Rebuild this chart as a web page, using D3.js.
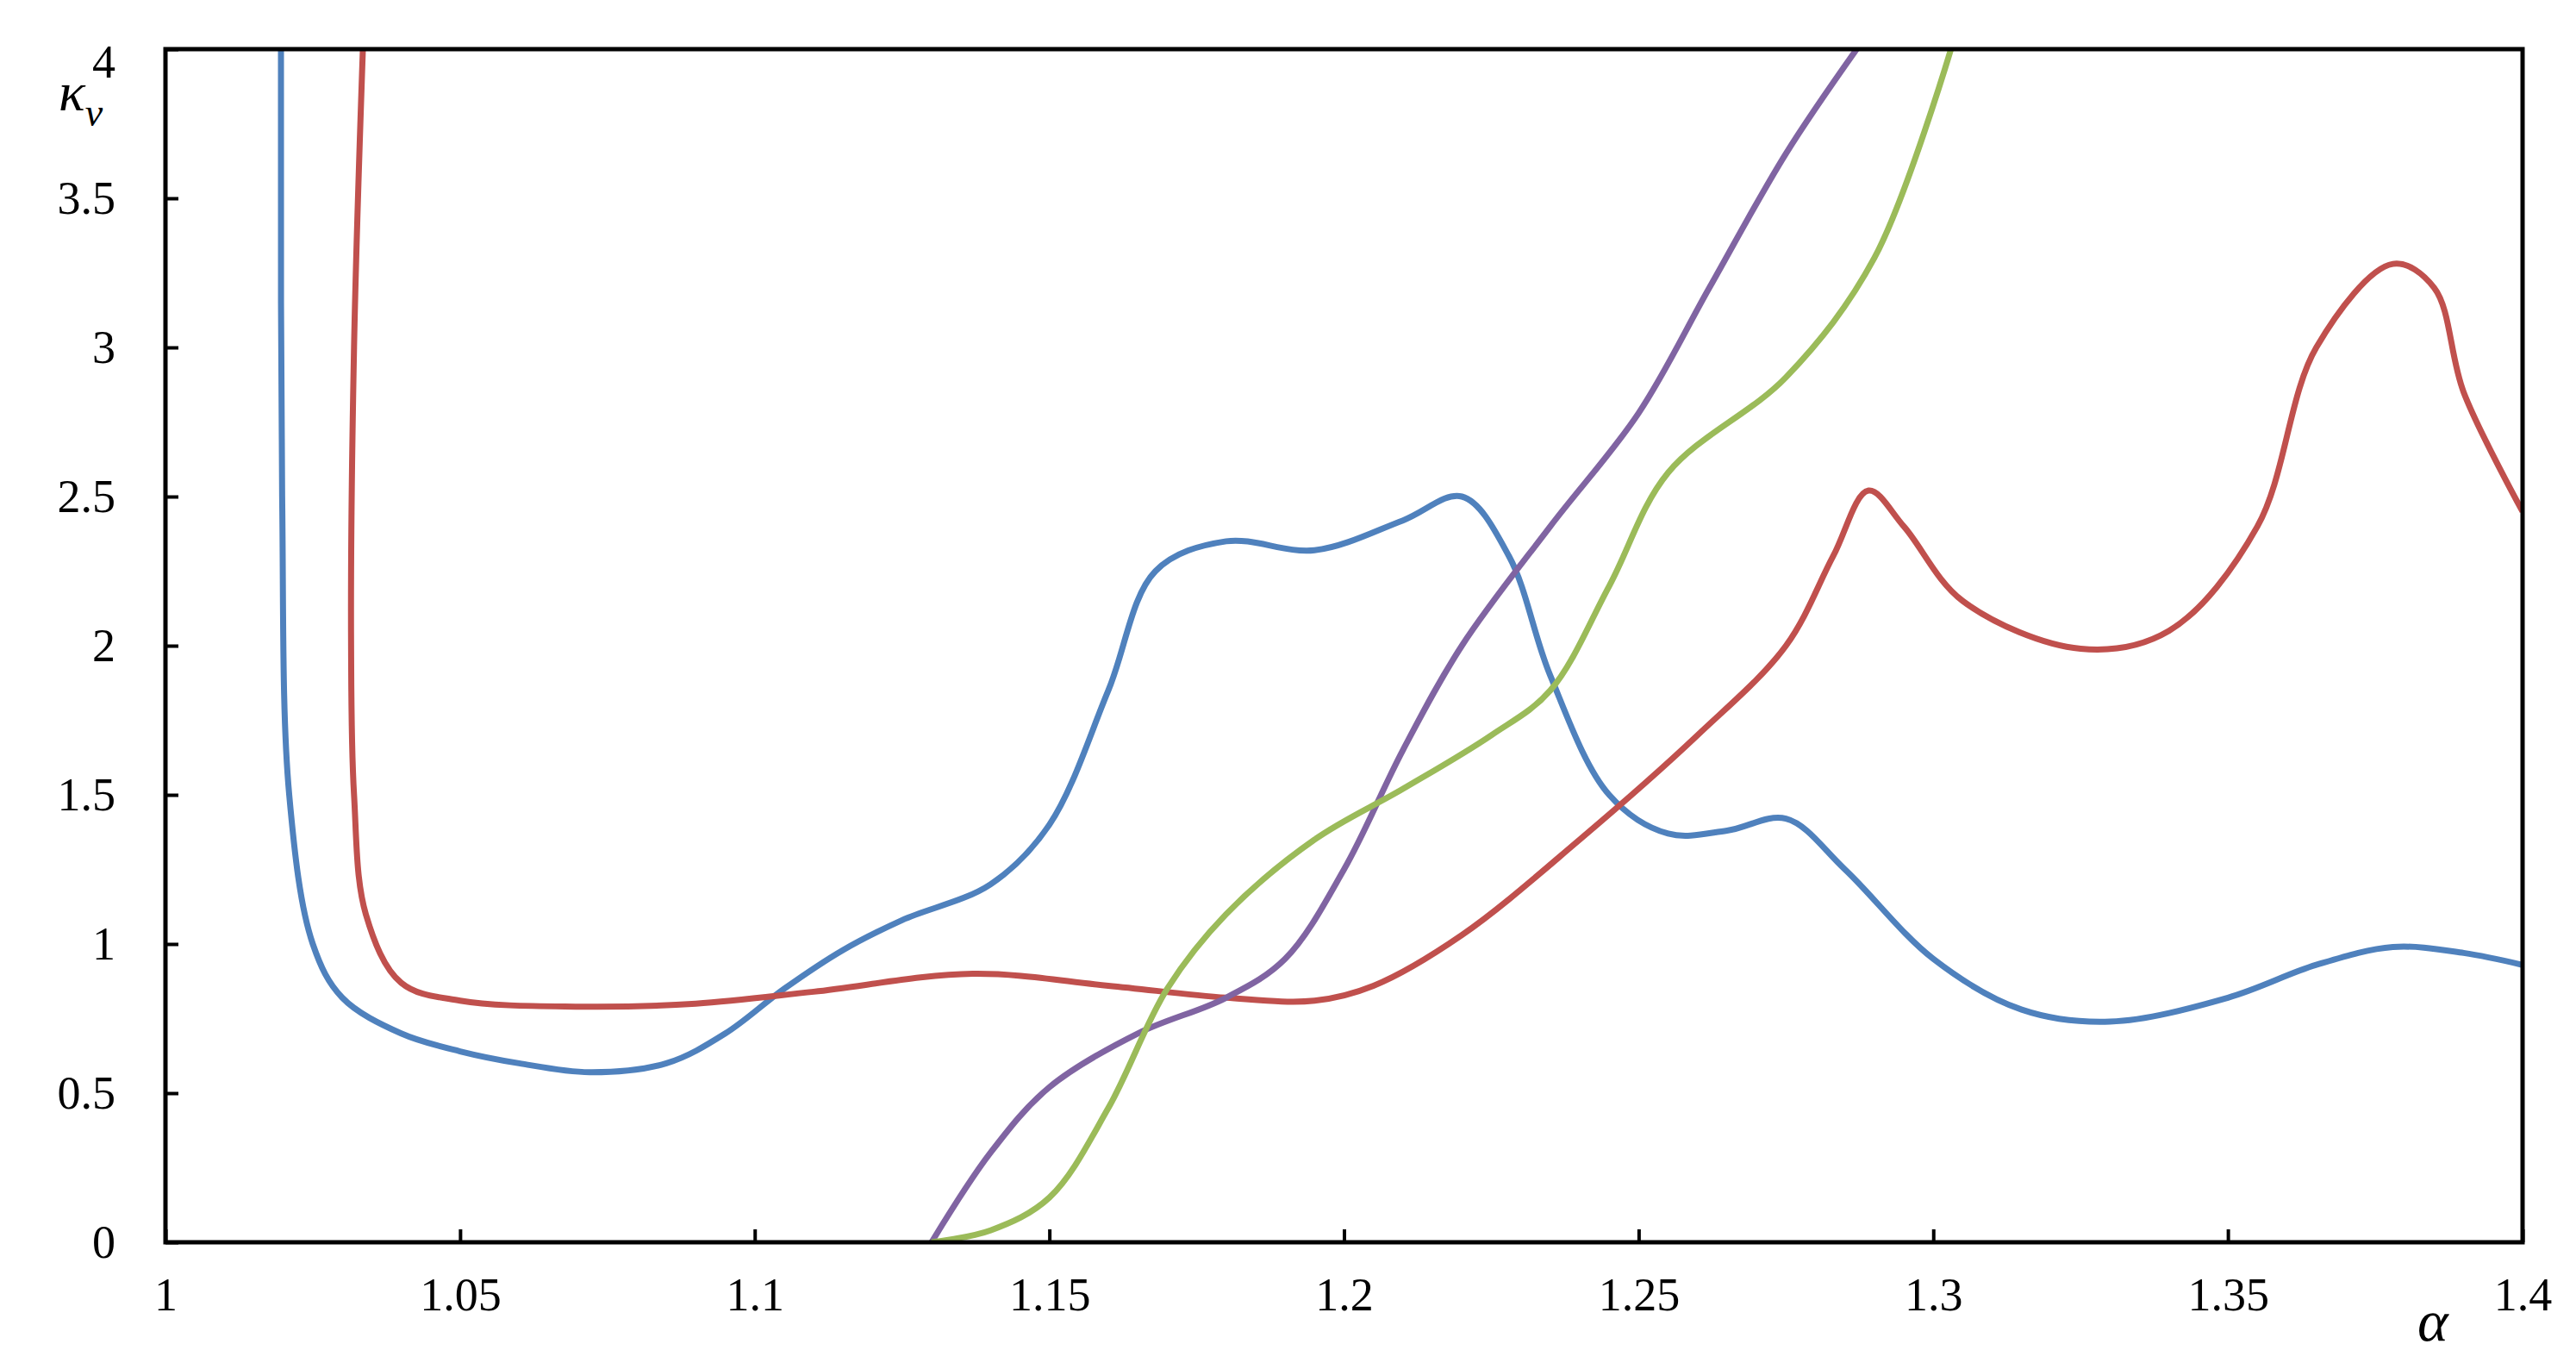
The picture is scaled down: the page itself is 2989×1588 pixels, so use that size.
<!DOCTYPE html>
<html><head><meta charset="utf-8">
<script src="https://cdn.jsdelivr.net/npm/d3@7"></script>
<style>body{margin:0;background:#fff}</style></head>
<body><svg id="c" width="2989" height="1588"></svg>
<script>
const xTicks=[1,1.05,1.1,1.15,1.2,1.25,1.3,1.35,1.4];
const yTicks=[0,0.5,1,1.5,2,2.5,3,3.5,4];
const blue=[[1.0196,4],[1.0198,2.5],[1.021,1.5],[1.025,1.0],[1.03,0.82],[1.04,0.7],[1.05,0.64],[1.06,0.6],[1.072,0.57],[1.085,0.6],[1.095,0.7],[1.105,0.85],[1.115,0.98],[1.125,1.08],[1.14,1.2],[1.15,1.4],[1.16,1.85],[1.168,2.25],[1.18,2.35],[1.195,2.32],[1.21,2.42],[1.22,2.5],[1.228,2.3],[1.235,1.9],[1.245,1.5],[1.255,1.37],[1.265,1.38],[1.275,1.42],[1.285,1.25],[1.3,0.95],[1.315,0.78],[1.33,0.74],[1.35,0.82],[1.365,0.93],[1.378,0.99],[1.39,0.97],[1.4,0.93]];
const red=[[1.0335,4],[1.032,3],[1.0315,2],[1.032,1.5],[1.034,1.1],[1.04,0.87],[1.05,0.81],[1.07,0.79],[1.09,0.8],[1.11,0.84],[1.137,0.9],[1.16,0.86],[1.18,0.82],[1.195,0.81],[1.205,0.86],[1.22,1.03],[1.24,1.35],[1.26,1.7],[1.275,2.0],[1.283,2.3],[1.289,2.52],[1.295,2.4],[1.305,2.15],[1.325,1.99],[1.34,2.05],[1.355,2.4],[1.365,3.0],[1.378,3.28],[1.385,3.2],[1.39,2.85],[1.4,2.45]];
const purple=[[1.13,0],[1.14,0.3],[1.15,0.52],[1.165,0.7],[1.18,0.82],[1.19,0.95],[1.2,1.25],[1.21,1.65],[1.22,2.0],[1.235,2.4],[1.25,2.78],[1.262,3.2],[1.275,3.65],[1.287,4]];
const green=[[1.13,0],[1.14,0.04],[1.15,0.15],[1.16,0.45],[1.17,0.85],[1.18,1.1],[1.195,1.35],[1.21,1.52],[1.225,1.7],[1.235,1.85],[1.245,2.2],[1.255,2.58],[1.275,2.9],[1.29,3.3],[1.303,4]];
const series=[{d:blue,c:"#4f81bd"},{d:red,c:"#c0504d"},{d:purple,c:"#8064a2"},{d:green,c:"#9bbb59"}];

const svg=d3.select("#c");
const L=192,R=2927,T=57,B=1441;
const x=d3.scaleLinear().domain([1,1.4]).range([L,R]);
const y=d3.scaleLinear().domain([0,4]).range([B,T]);
const font="'Liberation Serif','Times New Roman',serif";
const clip=svg.append("clipPath").attr("id","cl").append("rect").attr("x",L).attr("y",T).attr("width",R-L).attr("height",B-T);
const line=d3.line().x(d=>x(d[0])).y(d=>y(d[1])).curve(d3.curveCatmullRom.alpha(0.5));
const g=svg.append("g").attr("clip-path","url(#cl)");
series.forEach(s=>g.append("path").attr("d",line(s.d)).attr("fill","none").attr("stroke",s.c).attr("stroke-width",7));
svg.append("rect").attr("x",L).attr("y",T).attr("width",R-L).attr("height",B-T).attr("fill","none").attr("stroke","#000").attr("stroke-width",5);
const xa=svg.append("g").attr("transform",`translate(0,${B})`).call(d3.axisBottom(x).tickValues(xTicks).tickSize(-15).tickPadding(60).tickFormat(d3.format("")));
const ya=svg.append("g").attr("transform",`translate(${L},0)`).call(d3.axisLeft(y).tickValues(yTicks).tickSize(-15).tickPadding(58).tickFormat(d3.format("")));
[xa,ya].forEach(a=>{a.select(".domain").remove();a.selectAll("line").attr("stroke","#000").attr("stroke-width",4);
 a.selectAll("text").attr("font-family",font).attr("font-size",54).attr("fill","#000");});
xa.selectAll("text").attr("dy","0.35em");
ya.selectAll("text").filter(d=>d===4).attr("dy","0.6em");
svg.append("text").attr("x",68).attr("y",128).attr("font-family",font).attr("font-style","italic").attr("font-size",64).text("κ")
 .append("tspan").attr("font-size",46).attr("dy",18).text("v");
svg.append("text").attr("x",2805).attr("y",1555).attr("font-family",font).attr("font-style","italic").attr("font-size",68).text("α");
</script></body></html>
